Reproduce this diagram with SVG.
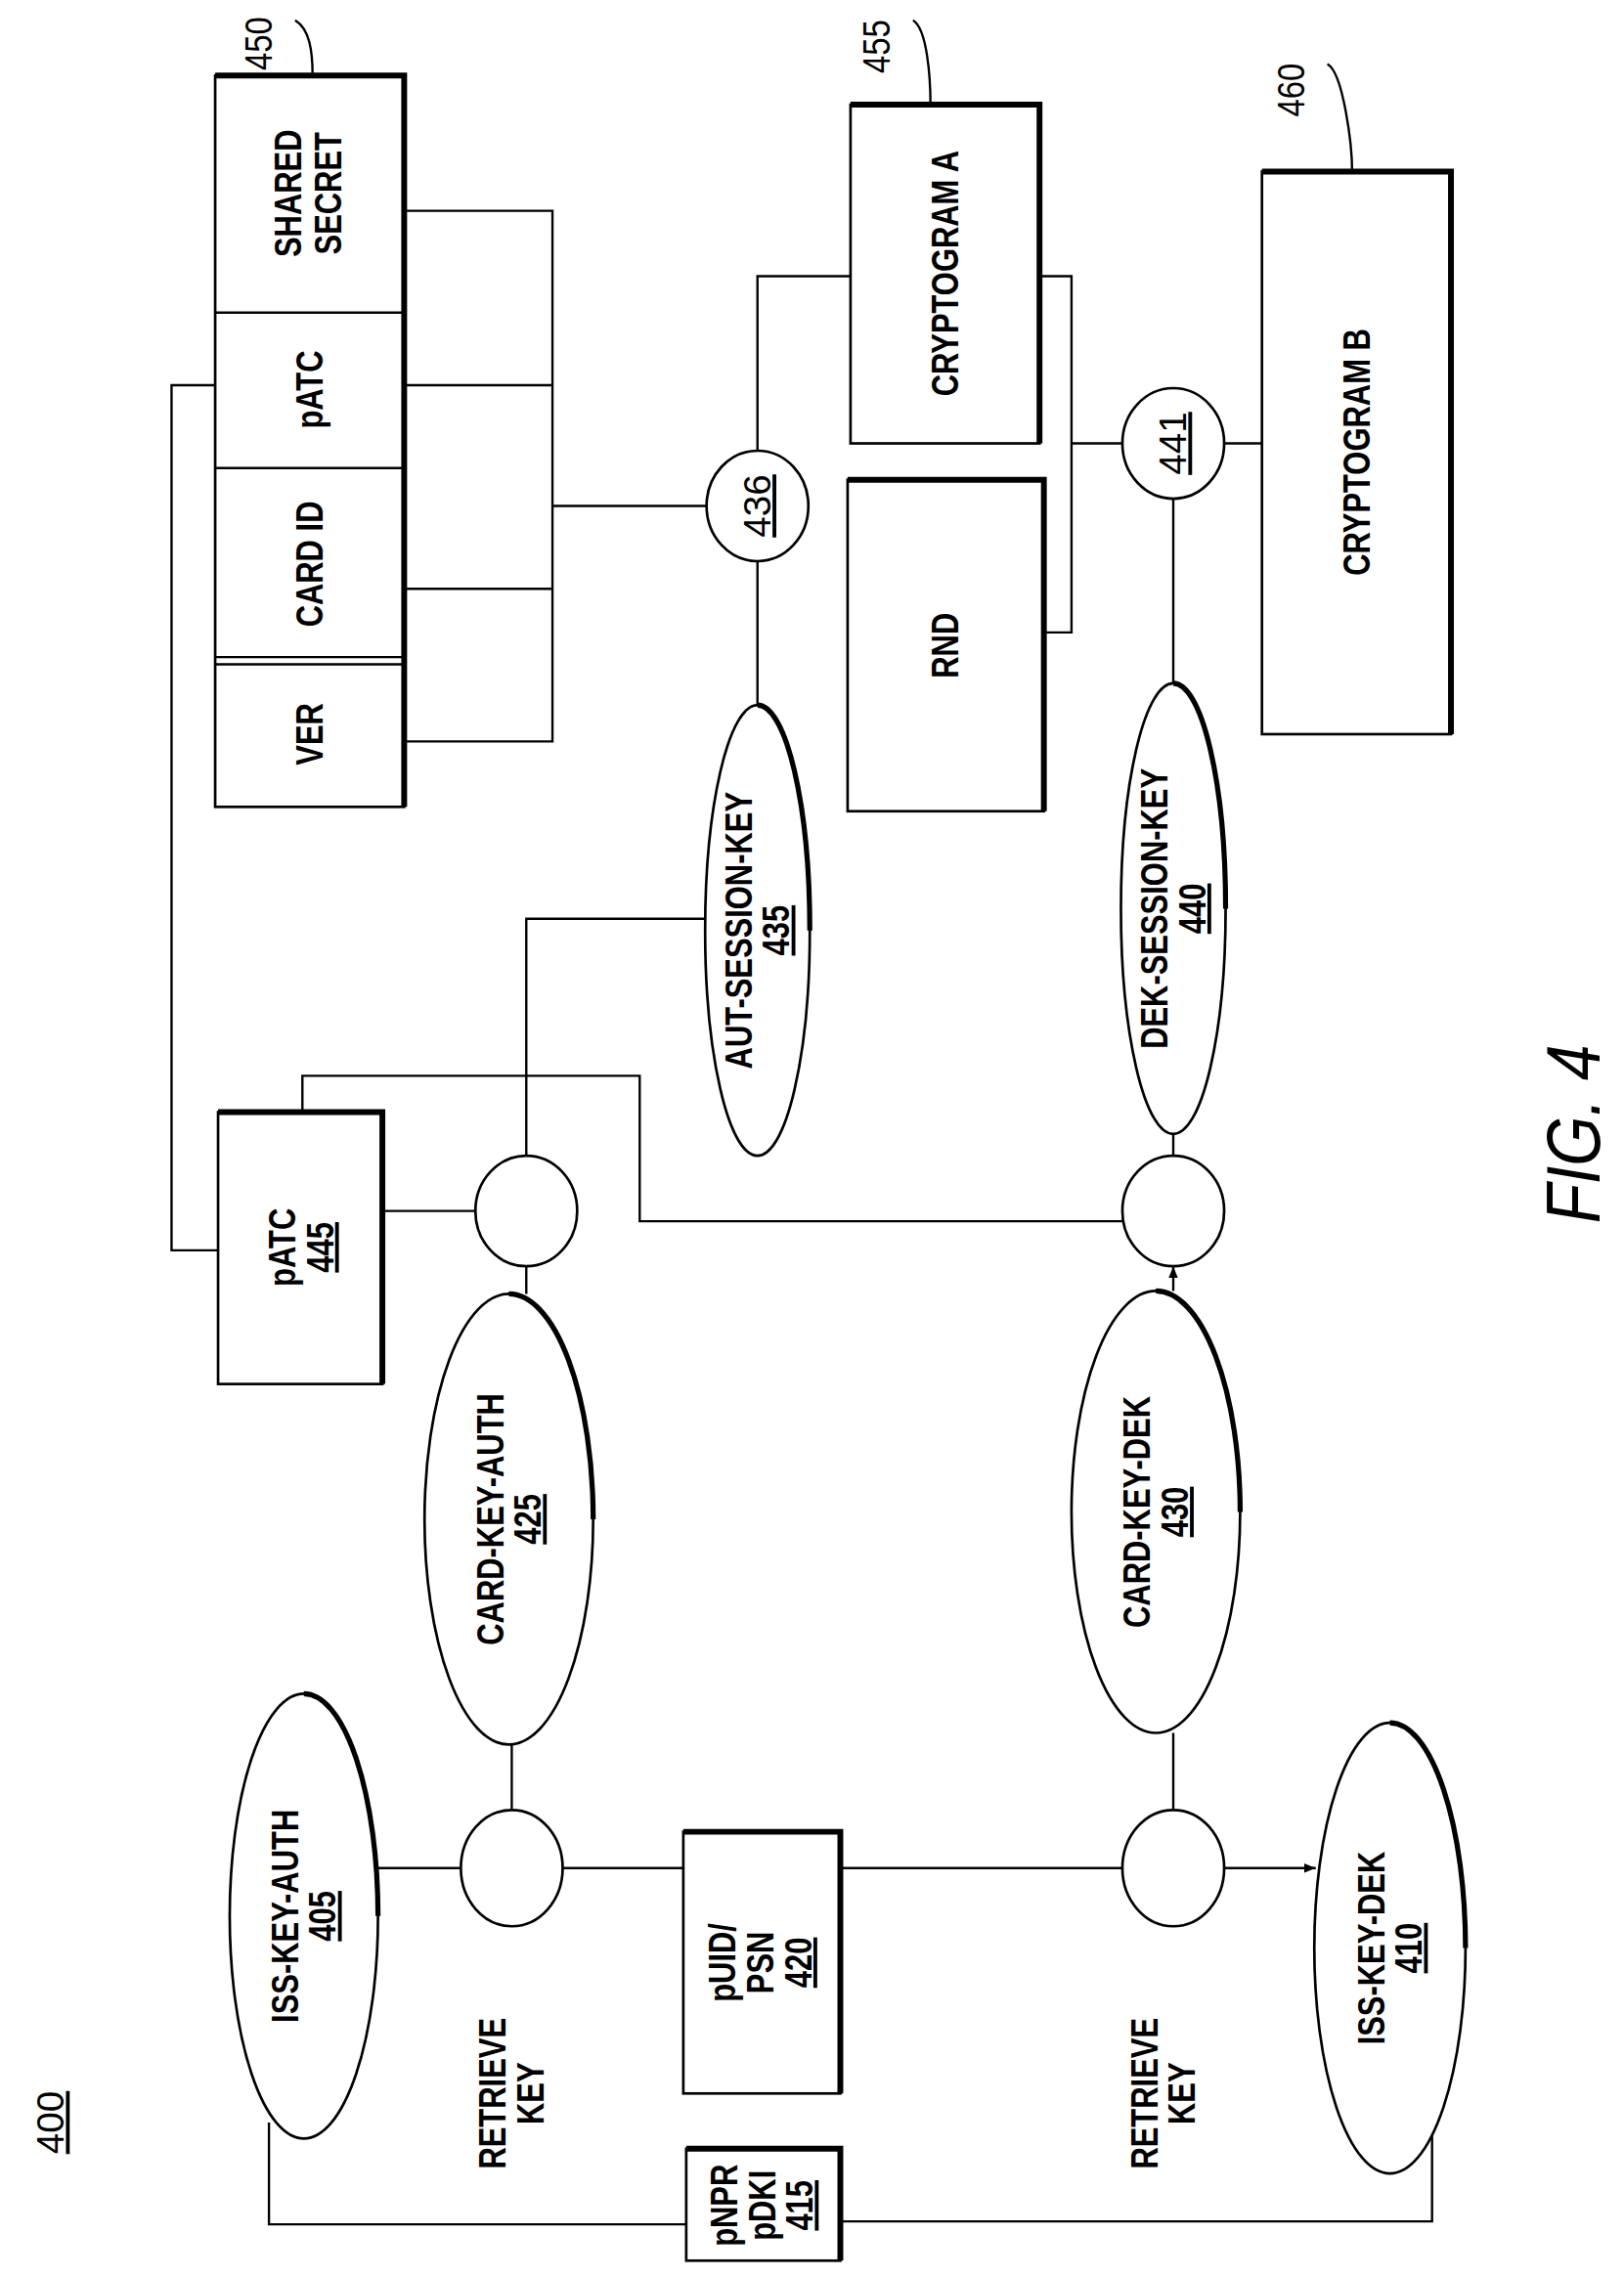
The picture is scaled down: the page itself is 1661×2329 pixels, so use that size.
<svg xmlns="http://www.w3.org/2000/svg" width="1661" height="2329" viewBox="0 0 1661 2329">
<style>
.l{fill:none;stroke:#000;stroke-width:1.6}
.b{fill:#fff;stroke:#000;stroke-width:1.8}
.t{font-family:"Liberation Sans",Arial,sans-serif;font-weight:bold;font-size:26px;text-anchor:middle}
.n{font-family:"Liberation Sans",Arial,sans-serif;font-size:26px;text-anchor:middle}
</style>
<defs><marker id="a" viewBox="0 0 10 10" refX="10" refY="5" markerWidth="8" markerHeight="8" orient="auto" markerUnits="userSpaceOnUse"><path d="M0,1L10,5L0,9z"/></marker></defs>
<rect width="1661" height="2329" fill="#fff"/>
<g transform="scale(1.487)">
<g id="connectors">
<path class="l" d="M278,145H380V510H278M278,265H380M278,405H380M380,348H486"/>
<path class="l" d="M521,310V190H585M715,190H737V435H718M737,305H772M842,305H868"/>
<path class="l" d="M521,386V485M807,343V470"/>
<path class="l" d="M486,632H362V795M148,265H118V860H150M263,833H327M362,871V890"/>
<path class="l" d="M208,765V740H440V840H772M807,780V798"/>
<path class="l" d="M807,888V871" marker-end="url(#a)"/>
<path class="l" d="M352,1200V1245M260,1285H317M387,1285H472M578,1285H772M807,1192V1245"/>
<path class="l" d="M842,1285H905" marker-end="url(#a)"/>
<path class="l" d="M185,1460V1530H472M578,1528H985V1469"/>
<path class="l" d="M203,14C213,20 215,35 215,52M628,14C638,20 640,55 640,72M913,44C924,50 930,100 930,118"/>
</g>
<g id="n450">
<rect class="b" x="148" y="52" width="130" height="503"/>
<path class="l" d="M148,215H278M148,322H278M148,452H278M148,457H278"/>
<path d="M148,52H278V555" fill="none" stroke="#000" stroke-width="4"/>
<text class="t" transform="translate(213,133) rotate(-90) scale(0.8,1)"><tspan x="0" y="-6">SHARED</tspan><tspan x="0" y="22">SECRET</tspan></text>
<text class="t" transform="translate(213,268) rotate(-90) scale(0.8,1)" y="9">pATC</text>
<text class="t" transform="translate(213,388) rotate(-90) scale(0.8,1)" y="9">CARD ID</text>
<text class="t" transform="translate(213,505) rotate(-90) scale(0.8,1)" y="9">VER</text>
<text class="n" transform="translate(178,30) rotate(-90) scale(0.85,1)" y="9">450</text>
</g>
<g id="n455"><rect class="b" x="585" y="72" width="130" height="233"/><path d="M585,72H715V305" fill="none" stroke="#000" stroke-width="4"/>
<text class="t" transform="translate(650,188) rotate(-90) scale(0.8,1)" y="9">CRYPTOGRAM A</text>
<text class="n" transform="translate(603,32) rotate(-90) scale(0.85,1)" y="9">455</text></g>
<g id="rnd"><rect class="b" x="583" y="330" width="135" height="228"/><path d="M583,330H718V558" fill="none" stroke="#000" stroke-width="4"/>
<text class="t" transform="translate(650,444) rotate(-90) scale(0.8,1)" y="9">RND</text></g>
<g id="n460"><rect class="b" x="868" y="118" width="130" height="387"/><path d="M868,118H998V505" fill="none" stroke="#000" stroke-width="4"/>
<text class="t" transform="translate(933,311) rotate(-90) scale(0.8,1)" y="9">CRYPTOGRAM B</text>
<text class="n" transform="translate(888,62) rotate(-90) scale(0.85,1)" y="9">460</text></g>
<g id="n436"><ellipse class="b" cx="521" cy="348" rx="35" ry="38"/><text class="n" transform="translate(521,348) rotate(-90)" y="9" text-decoration="underline">436</text></g>
<g id="n441"><ellipse class="b" cx="807" cy="305" rx="35" ry="38"/><text class="n" transform="translate(807,305) rotate(-90)" y="9" text-decoration="underline">441</text></g>
<g id="n435"><ellipse class="b" cx="521" cy="640" rx="36" ry="155"/><path d="M521,485A36,155 0 0 1 557,640" fill="none" stroke="#000" stroke-width="3.5"/>
<text class="t" transform="translate(521,640) rotate(-90) scale(0.8,1)"><tspan x="0" y="-4">AUT-SESSION-KEY</tspan><tspan x="0" y="22" text-decoration="underline">435</tspan></text></g>
<g id="n440"><ellipse class="b" cx="807" cy="625" rx="36" ry="155"/><path d="M807,470A36,155 0 0 1 843,625" fill="none" stroke="#000" stroke-width="3.5"/>
<text class="t" transform="translate(807,625) rotate(-90) scale(0.8,1)"><tspan x="0" y="-4">DEK-SESSION-KEY</tspan><tspan x="0" y="22" text-decoration="underline">440</tspan></text></g>
<g id="n445"><rect class="b" x="150" y="765" width="113" height="187"/><path d="M150,765H263V952" fill="none" stroke="#000" stroke-width="4"/>
<text class="t" transform="translate(207,858) rotate(-90) scale(0.8,1)"><tspan x="0" y="-4">pATC</tspan><tspan x="0" y="22" text-decoration="underline">445</tspan></text></g>
<g id="c1"><ellipse class="b" cx="362" cy="833" rx="35" ry="38"/></g>
<g id="c2"><ellipse class="b" cx="807" cy="833" rx="35" ry="38"/></g>
<g id="n425"><ellipse class="b" cx="350" cy="1045" rx="58" ry="155"/><path d="M350,890A58,155 0 0 1 408,1045" fill="none" stroke="#000" stroke-width="3.5"/>
<text class="t" transform="translate(350,1045) rotate(-90) scale(0.8,1)"><tspan x="0" y="-4">CARD-KEY-AUTH</tspan><tspan x="0" y="22" text-decoration="underline">425</tspan></text></g>
<g id="n430"><ellipse class="b" cx="795" cy="1040" rx="58" ry="152"/><path d="M795,888A58,152 0 0 1 853,1040" fill="none" stroke="#000" stroke-width="3.5"/>
<text class="t" transform="translate(795,1040) rotate(-90) scale(0.8,1)"><tspan x="0" y="-4">CARD-KEY-DEK</tspan><tspan x="0" y="22" text-decoration="underline">430</tspan></text></g>
<g id="r1"><ellipse class="b" cx="352" cy="1285" rx="35" ry="40"/><text class="t" transform="translate(352,1440) rotate(-90) scale(0.8,1)"><tspan x="0" y="-4">RETRIEVE</tspan><tspan x="0" y="22">KEY</tspan></text></g>
<g id="r2"><ellipse class="b" cx="807" cy="1285" rx="35" ry="40"/><text class="t" transform="translate(800,1440) rotate(-90) scale(0.8,1)"><tspan x="0" y="-4">RETRIEVE</tspan><tspan x="0" y="22">KEY</tspan></text></g>
<g id="n405"><ellipse class="b" cx="209" cy="1318" rx="51" ry="153"/><path d="M209,1165A51,153 0 0 1 260,1318" fill="none" stroke="#000" stroke-width="3.5"/>
<text class="t" transform="translate(209,1318) rotate(-90) scale(0.8,1)"><tspan x="0" y="-4">ISS-KEY-AUTH</tspan><tspan x="0" y="22" text-decoration="underline">405</tspan></text></g>
<g id="n410"><ellipse class="b" cx="956" cy="1340" rx="52" ry="155"/><path d="M956,1185A52,155 0 0 1 1008,1340" fill="none" stroke="#000" stroke-width="3.5"/>
<text class="t" transform="translate(956,1340) rotate(-90) scale(0.8,1)"><tspan x="0" y="-4">ISS-KEY-DEK</tspan><tspan x="0" y="22" text-decoration="underline">410</tspan></text></g>
<g id="n420"><rect class="b" x="470" y="1260" width="108" height="180"/><path d="M470,1260H578V1440" fill="none" stroke="#000" stroke-width="4"/>
<text class="t" transform="translate(524,1350) rotate(-90) scale(0.8,1)"><tspan x="0" y="-18">pUID/</tspan><tspan x="0" y="8">PSN</tspan><tspan x="0" y="34" text-decoration="underline">420</tspan></text></g>
<g id="n415"><rect class="b" x="472" y="1478" width="106" height="77"/><path d="M472,1478H578V1555" fill="none" stroke="#000" stroke-width="4"/>
<text class="t" transform="translate(525,1517) rotate(-90) scale(0.8,1)"><tspan x="0" y="-18">pNPR</tspan><tspan x="0" y="8">pDKI</tspan><tspan x="0" y="34" text-decoration="underline">415</tspan></text></g>
<text class="n" transform="translate(35,1460) rotate(-90)" y="9" text-decoration="underline">400</text>
<text transform="translate(1082,780) rotate(-90) scale(0.85,1)" y="18" font-family="Liberation Sans,Arial,sans-serif" font-style="italic" font-size="52" text-anchor="middle">FIG. 4</text>
</g>
</svg>
